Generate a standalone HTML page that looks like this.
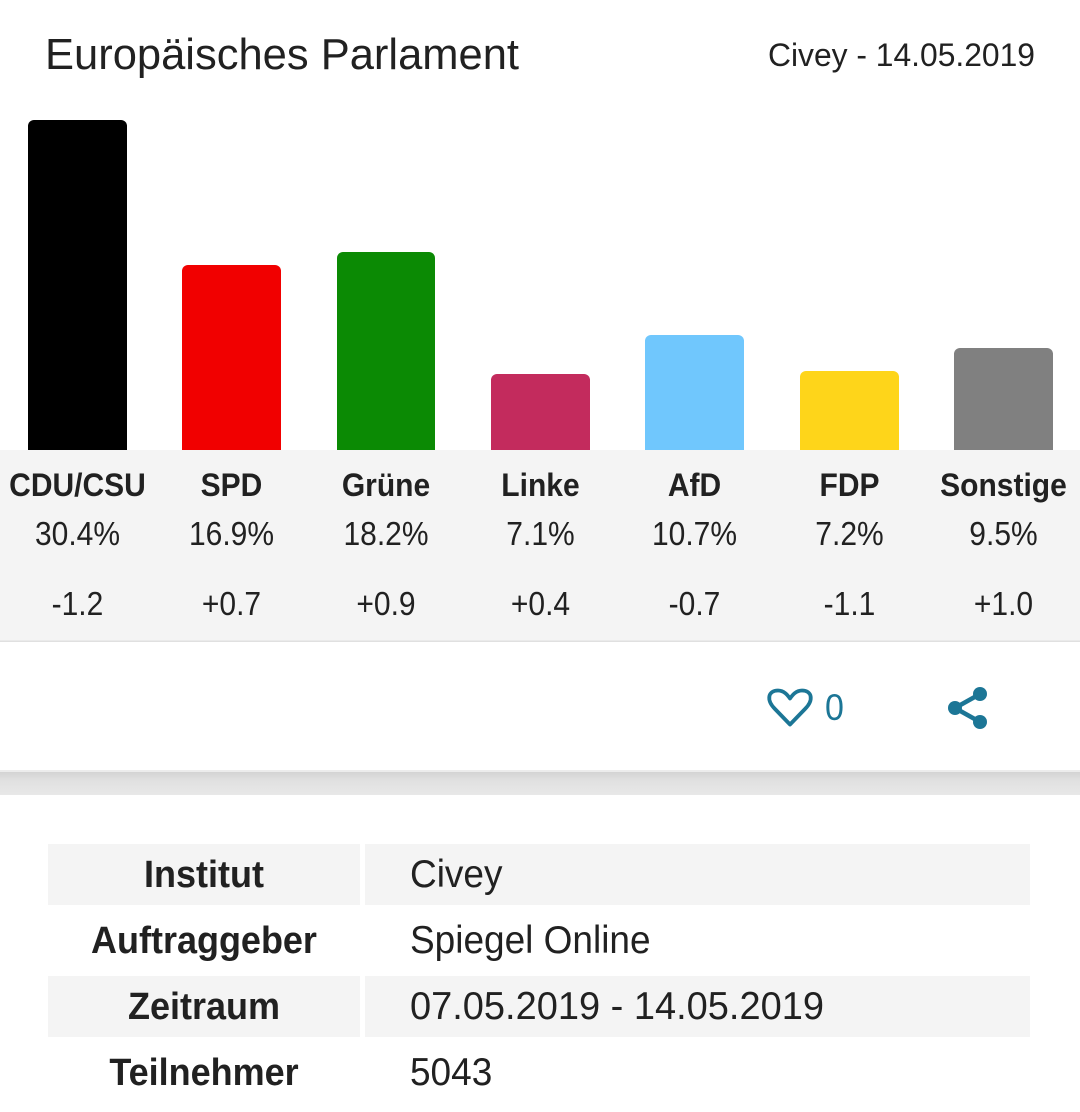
<!DOCTYPE html>
<html>
<head>
<meta charset="utf-8">
<style>
  html, body { margin: 0; padding: 0; background: #ffffff; }
  body { width: 1080px; height: 1112px; overflow: hidden; }
  svg { display: block; }
  text { font-family: "Liberation Sans", Arial, sans-serif; fill: #212121; }
  .b { font-weight: bold; }
</style>
</head>
<body>
<svg width="1080" height="1112" viewBox="0 0 1080 1112" xmlns="http://www.w3.org/2000/svg">
  <defs>
    <linearGradient id="strip" x1="0" y1="0" x2="0" y2="1">
      <stop offset="0" stop-color="#d3d3d3"/>
      <stop offset="0.35" stop-color="#e0e0e0"/>
      <stop offset="1" stop-color="#e8e8e8"/>
    </linearGradient>
  </defs>

  <rect x="0" y="0" width="1080" height="1112" fill="#ffffff"/>

  <!-- Header -->
  <text x="45" y="69" font-size="43.5" textLength="474" lengthAdjust="spacingAndGlyphs">Europäisches Parlament</text>
  <text x="768" y="66" font-size="32" textLength="267" lengthAdjust="spacingAndGlyphs">Civey - 14.05.2019</text>

  <!-- Bars -->
  <rect x="28" y="120" width="99" height="350" rx="6" fill="#000000"/>
  <rect x="182" y="265" width="99" height="205" rx="6" fill="#f10000"/>
  <rect x="337" y="252" width="98" height="218" rx="6" fill="#0b8a04"/>
  <rect x="491" y="374" width="99" height="96" rx="6" fill="#c32b5d"/>
  <rect x="645" y="335" width="99" height="135" rx="6" fill="#70c7fd"/>
  <rect x="800" y="371" width="99" height="99" rx="6" fill="#fed51a"/>
  <rect x="954" y="348" width="99" height="122" rx="6" fill="#808080"/>

  <!-- Gray band -->
  <rect x="0" y="450" width="1080" height="191" fill="#f4f4f4"/>
  <rect x="0" y="640.5" width="1080" height="1.5" fill="#e0e0e0"/>

  <!-- Party labels -->
  <g transform="translate(0,496) scale(1,1.08) translate(0,-496)" font-size="30" text-anchor="middle">
    <text class="b" x="77.5" y="496">CDU/CSU</text>
    <text class="b" x="231.5" y="496">SPD</text>
    <text class="b" x="386" y="496">Grüne</text>
    <text class="b" x="540.5" y="496">Linke</text>
    <text class="b" x="694.5" y="496">AfD</text>
    <text class="b" x="849.5" y="496">FDP</text>
    <text class="b" x="1003.5" y="496">Sonstige</text>
  </g>

  <!-- Percentages -->
  <g transform="translate(0,545) scale(1,1.12) translate(0,-545)" font-size="30" text-anchor="middle">
    <text x="77.5" y="545">30.4%</text>
    <text x="231.5" y="545">16.9%</text>
    <text x="386" y="545">18.2%</text>
    <text x="540.5" y="545">7.1%</text>
    <text x="694.5" y="545">10.7%</text>
    <text x="849.5" y="545">7.2%</text>
    <text x="1003.5" y="545">9.5%</text>
  </g>

  <!-- Deltas -->
  <g transform="translate(0,615) scale(1,1.1) translate(0,-615)" font-size="30" text-anchor="middle">
    <text x="77.5" y="615">-1.2</text>
    <text x="231.5" y="615">+0.7</text>
    <text x="386" y="615">+0.9</text>
    <text x="540.5" y="615">+0.4</text>
    <text x="694.5" y="615">-0.7</text>
    <text x="849.5" y="615">-1.1</text>
    <text x="1003.5" y="615">+1.0</text>
  </g>

  <!-- Heart icon + count -->
  <path d="M790,724.5 L775,709 C766,700 768,690.5 778,690.5 C784,690.5 787.5,695 790,698.5 C792.5,695 796,690.5 802,690.5 C812,690.5 814,700 805,709 Z"
        fill="none" stroke="#1c7696" stroke-width="3.8" stroke-linejoin="round"/>
  <text x="825" y="720" font-size="34" style="fill:#1c7696" transform="translate(0,720) scale(1,1.1) translate(0,-720)">0</text>

  <!-- Share icon -->
  <g stroke="#1c7696" stroke-width="4.5" fill="#1c7696">
    <line x1="955" y1="708" x2="980" y2="694"/>
    <line x1="955" y1="708" x2="980" y2="722"/>
    <circle cx="980" cy="694" r="7" stroke="none"/>
    <circle cx="955" cy="708" r="7" stroke="none"/>
    <circle cx="980" cy="722" r="7" stroke="none"/>
  </g>

  <!-- Shadow strip -->
  <rect x="0" y="772" width="1080" height="23" fill="url(#strip)"/>
  <rect x="0" y="770" width="1080" height="2" fill="#ececec"/>

  <!-- Table -->
  <rect x="48" y="844" width="312" height="61" fill="#f4f4f4"/>
  <rect x="365" y="844" width="665" height="61" fill="#f4f4f4"/>
  <rect x="48" y="976" width="312" height="61" fill="#f4f4f4"/>
  <rect x="365" y="976" width="665" height="61" fill="#f4f4f4"/>

  <g font-size="36" text-anchor="middle">
    <text class="b" x="204" y="887" transform="translate(0,887) scale(1,1.06) translate(0,-887)">Institut</text>
    <text class="b" x="204" y="953" transform="translate(0,953) scale(1,1.06) translate(0,-953)">Auftraggeber</text>
    <text class="b" x="204" y="1019" transform="translate(0,1019) scale(1,1.06) translate(0,-1019)">Zeitraum</text>
    <text class="b" x="204" y="1085" transform="translate(0,1085) scale(1,1.06) translate(0,-1085)">Teilnehmer</text>
  </g>
  <g font-size="37">
    <text x="410" y="887" transform="translate(0,887) scale(1,1.06) translate(0,-887)">Civey</text>
    <text x="410" y="953" transform="translate(0,953) scale(1,1.06) translate(0,-953)">Spiegel Online</text>
    <text x="410" y="1019" textLength="414" lengthAdjust="spacingAndGlyphs" transform="translate(0,1019) scale(1,1.06) translate(0,-1019)">07.05.2019 - 14.05.2019</text>
    <text x="410" y="1085" transform="translate(0,1085) scale(1,1.06) translate(0,-1085)">5043</text>
  </g>
</svg>
</body>
</html>
